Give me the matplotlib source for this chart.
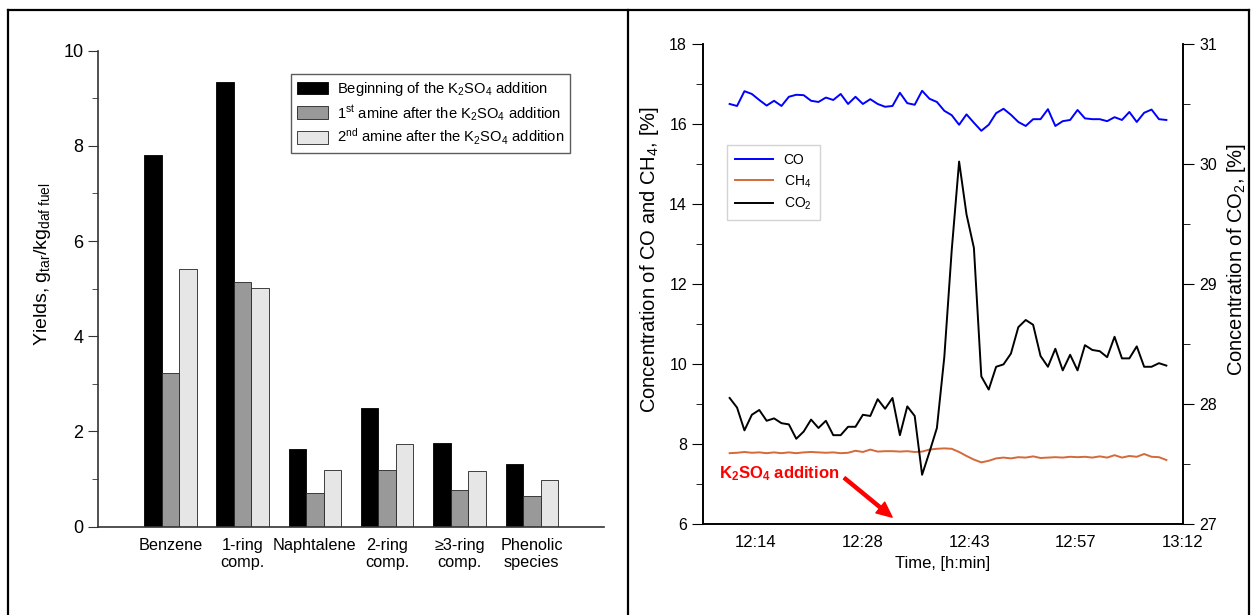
import numpy as np
import matplotlib
matplotlib.use("Agg")
import matplotlib.pyplot as plt
from matplotlib.lines import Line2D
from matplotlib.ticker import MultipleLocator

plt.rcParams['font.family'] = ['Liberation Sans', 'DejaVu Sans']
plt.rcParams['mathtext.fontset'] = 'custom'
plt.rcParams['mathtext.rm'] = 'Liberation Sans'
plt.rcParams['mathtext.it'] = 'Liberation Sans:italic'
plt.rcParams['mathtext.bf'] = 'Liberation Sans:bold'

# left panel: tar yields
categories = ["Benzene", "1-ring\ncomp.", "Naphtalene", "2-ring\ncomp.",
              "\u22653-ring\ncomp.", "Phenolic\nspecies"]
beginning = [7.80, 9.34, 1.63, 2.49, 1.75, 1.31]
amine_1st = [3.23, 5.14, 0.70, 1.19, 0.78, 0.64]
amine_2nd = [5.41, 5.01, 1.20, 1.74, 1.17, 0.99]
bar_labels = ["Beginning of the K$_2$SO$_4$ addition",
              "1$^{\\mathrm{st}}$ amine after the K$_2$SO$_4$ addition",
              "2$^{\\mathrm{nd}}$ amine after the K$_2$SO$_4$ addition"]

# right panel: gas concentrations, one sample per minute from 12:11
time_min = np.arange(11, 71)
co = [16.50, 16.45, 16.82, 16.75, 16.60, 16.46, 16.58, 16.45, 16.68, 16.73,
      16.72, 16.58, 16.55, 16.66, 16.60, 16.75, 16.50, 16.68, 16.50, 16.62,
      16.50, 16.43, 16.45, 16.78, 16.52, 16.48, 16.83, 16.63, 16.55, 16.33,
      16.22, 15.98, 16.24, 16.03, 15.83, 15.98, 16.27, 16.38, 16.23, 16.05,
      15.95, 16.12, 16.12, 16.37, 15.95, 16.07, 16.10, 16.35, 16.14, 16.12,
      16.12, 16.07, 16.17, 16.10, 16.30, 16.05, 16.28, 16.36, 16.12, 16.10]
ch4 = [7.77, 7.78, 7.80, 7.78, 7.79, 7.77, 7.79, 7.77, 7.79, 7.77,
       7.79, 7.80, 7.79, 7.78, 7.79, 7.77, 7.78, 7.83, 7.80, 7.86,
       7.81, 7.82, 7.82, 7.81, 7.82, 7.80, 7.81, 7.86, 7.88, 7.89,
       7.88, 7.80, 7.70, 7.61, 7.54, 7.58, 7.64, 7.66, 7.64, 7.67,
       7.66, 7.69, 7.65, 7.66, 7.67, 7.66, 7.68, 7.67, 7.68, 7.66,
       7.69, 7.66, 7.72, 7.66, 7.70, 7.68, 7.75, 7.68, 7.67, 7.60]
co2 = [28.05, 27.97, 27.78, 27.91, 27.95, 27.86, 27.88, 27.84, 27.83, 27.71,
       27.77, 27.87, 27.80, 27.86, 27.74, 27.74, 27.81, 27.81, 27.91, 27.90,
       28.04, 27.96, 28.05, 27.74, 27.98, 27.90, 27.41, 27.60, 27.80, 28.39,
       29.28, 30.02, 29.58, 29.30, 28.23, 28.12, 28.31, 28.33, 28.42, 28.64,
       28.70, 28.66, 28.40, 28.31, 28.46, 28.28, 28.41, 28.28, 28.49, 28.45,
       28.44, 28.39, 28.56, 28.38, 28.38, 28.48, 28.31, 28.31, 28.34, 28.32]
time_ticks = [14.45, 28.9, 43.35, 57.8, 72.25]
time_labels = ["12:14", "12:28", "12:43", "12:57", "13:12"]

fig = plt.figure(figsize=(12.52, 6.15), dpi=100)

# ---- left panel ----
ax = fig.add_axes([0.0783, 0.1436, 0.4042, 0.774])
x = np.arange(len(categories))
w = 0.242
ax.bar(x - w, beginning, w, color="black", edgecolor="black", lw=0.6,
       label=bar_labels[0])
ax.bar(x, amine_1st, w, color="#999999", edgecolor="#222222", lw=0.6,
       label=bar_labels[1])
ax.bar(x + w, amine_2nd, w, color="#e6e6e6", edgecolor="#222222", lw=0.6,
       label=bar_labels[2])
ax.set_xlim(-1.0, 6.0)
ax.set_ylim(0, 10)
ax.set_xticks(x)
ax.set_xticklabels(categories, fontsize=11.7, va="top", linespacing=1.15)
ax.tick_params(axis="x", length=0, pad=8)
ax.yaxis.set_major_locator(MultipleLocator(2))
ax.yaxis.set_minor_locator(MultipleLocator(1))
ax.tick_params(axis="y", which="major", length=7, labelsize=13, color="#333333")
ax.tick_params(axis="y", which="minor", length=4, color="#333333")
for s in ["top", "right"]:
    ax.spines[s].set_visible(False)
for s in ["left", "bottom"]:
    ax.spines[s].set_color("#333333")
    ax.spines[s].set_linewidth(1.2)
ax.set_ylabel("Yields, g$_{\\mathrm{tar}}$/kg$_{\\mathrm{daf\\ fuel}}$",
              fontsize=14)
ax.yaxis.set_label_coords(-0.088, 0.552)
leg = ax.legend(loc="upper left", bbox_to_anchor=(0.367, 0.966), fontsize=10.6,
                frameon=True, fancybox=False, edgecolor="#333333",
                handlelength=2.1, handleheight=0.95, labelspacing=0.3,
                borderpad=0.4, handletextpad=0.6)
leg.get_frame().set_linewidth(1.0)

# ---- right panel ----
axr = fig.add_axes([0.5615, 0.148, 0.3834, 0.7805])
axr2 = axr.twinx()
l1, = axr.plot(time_min, co, color="#0000ff", lw=1.4, label="CO")
l2, = axr.plot(time_min, ch4, color="#d4693a", lw=1.4, label="CH$_4$")
l3, = axr2.plot(time_min, co2, color="black", lw=1.4, label="CO$_2$")
axr.set_xlim(7.4, 72.25)
axr.set_ylim(6, 18)
axr2.set_ylim(27, 31)
axr.set_xticks(time_ticks)
axr.set_xticklabels(time_labels)
axr.tick_params(axis="x", length=0, labelsize=12, pad=8)
axr.yaxis.set_major_locator(MultipleLocator(2))
axr.yaxis.set_minor_locator(MultipleLocator(1))
axr2.yaxis.set_major_locator(MultipleLocator(1))
axr2.yaxis.set_minor_locator(MultipleLocator(0.5))
axr.tick_params(axis="y", which="major", length=8, labelsize=11.5)
axr.tick_params(axis="y", which="minor", length=5)
axr2.tick_params(axis="y", which="major", length=8, labelsize=11.5)
axr2.tick_params(axis="y", which="minor", length=5)
for a in (axr, axr2):
    a.spines["top"].set_visible(False)
    for s in ["left", "right", "bottom"]:
        a.spines[s].set_linewidth(1.2)
axr.set_xlabel("Time, [h:min]", fontsize=12, labelpad=4)
axr.set_ylabel("Concentration of CO and CH$_4$, [%]", fontsize=14.5)
axr.yaxis.set_label_coords(-0.088, 0.55)
axr2.set_ylabel("Concentration of CO$_2$, [%]", fontsize=14.5)
axr2.yaxis.set_label_coords(1.088, 0.55)
leg2 = axr2.legend(handles=[l1, l2, l3], loc="upper left",
                   bbox_to_anchor=(0.035, 0.805), fontsize=10, frameon=True,
                   fancybox=False, edgecolor="#c8c8c8", handlelength=2.7,
                   labelspacing=0.45, borderpad=0.6)
leg2.get_frame().set_linewidth(1.0)

axr.text(9.5, 7.25, "K$_\\mathbf{2}$SO$_\\mathbf{4}$ addition", color="red",
         fontsize=12, fontweight="bold", va="center", ha="left")
axr.annotate("", xy=(32.95, 6.17), xytext=(26.5, 7.15),
             arrowprops=dict(facecolor="red", edgecolor="red", width=2.2,
                             headwidth=10, headlength=11, shrink=0))

# outer frame
W, H = 1252, 615
for xs, ys in [([8, 1249], [10, 10]), ([8, 8], [10, 615]),
               ([628, 628], [10, 615]), ([1249, 1249], [10, 615])]:
    fig.add_artist(Line2D([v / W for v in xs], [1 - v / H for v in ys],
                          transform=fig.transFigure, color="black", lw=1.6))

fig.savefig("out.png", dpi=100)
